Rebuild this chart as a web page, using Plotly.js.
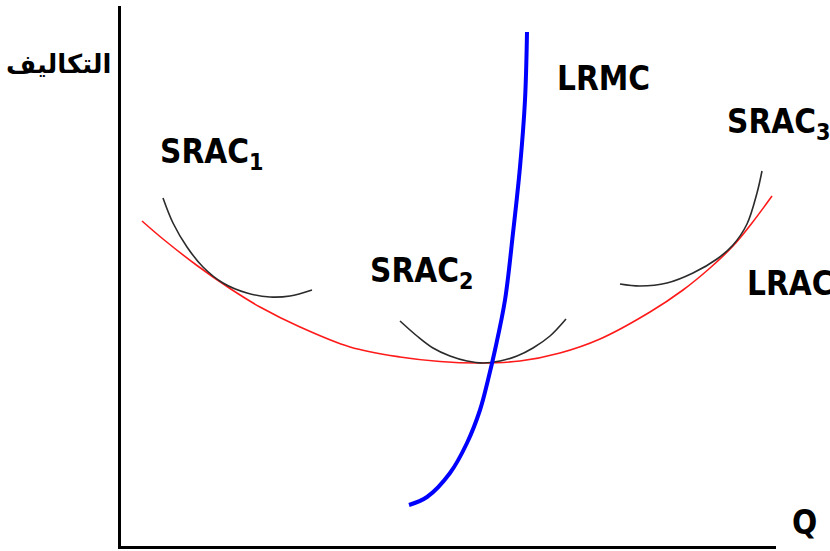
<!DOCTYPE html>
<html>
<head>
<meta charset="utf-8">
<script src="https://cdn.plot.ly/plotly-3.0.1.min.js"></script>
<style>html,body{margin:0;padding:0;background:#fff;}#chart{width:830px;height:551px;}</style>
</head>
<body>
<div id="chart"></div>
<script>
// Long-run average cost (red)
const lracQ = [2.1, 4.2, 7.6, 10.9, 13.9, 17.9, 22.9, 27.9, 31.9, 35.9, 39.9, 43.9, 47.9, 52.9, 56.2, 58.9, 61.2, 63.1, 65.1];
const lracC = [32.5, 30.7, 28.05, 25.75, 23.9, 21.9, 19.9, 18.9, 18.45, 18.3, 18.5, 19.3, 20.7, 23.4, 25.6, 27.8, 30.0, 32.3, 35.0];
// Short-run average cost curves
const srac1Q = [4.2, 5.2, 6.6, 8.2, 10.2, 12.6, 14.9, 16.9, 19.1];
const srac1C = [34.8, 32.3, 29.9, 27.9, 26.3, 25.3, 24.9, 25.0, 25.6];
const srac2Q = [27.9, 29.6, 31.2, 32.9, 34.6, 36.2, 37.9, 39.6, 41.2, 42.9, 44.5];
const srac2C = [22.5, 21.0, 19.8, 19.0, 18.5, 18.3, 18.5, 19.0, 19.8, 21.0, 22.7];
const srac3Q = [49.9, 51.9, 54.6, 57.2, 59.6, 61.2, 62.6, 63.6, 64.1];
const srac3C = [26.2, 26.0, 26.3, 27.3, 28.7, 30.1, 32.2, 35.3, 37.5];
// Long-run marginal cost (blue)
const lrmcQ = [28.8, 30.6, 32.9, 34.6, 35.9, 36.7, 37.4, 38.4, 39.2, 39.9, 40.4, 40.6];
const lrmcC = [4.1, 4.9, 7.3, 10.3, 13.6, 16.6, 19.6, 24.6, 31.3, 37.9, 44.6, 51.4];
// Curve labels (data coordinates)
const labels = ["SRAC<sub>1</sub>", "SRAC<sub>2</sub>", "SRAC<sub>3</sub>", "LRMC", "LRAC"];
const labelQ = [3.7, 24.7, 60.4, 43.4, 62.4];
const labelC = [39.3, 27.4, 42.3, 46.8, 26.3];
// Axis titles (paper coordinates, outside the plot area)
const yTitle = "التكاليف";
const xTitle = "Q";

const LATIN = "Liberation Sans Narrow, DejaVu Sans Condensed, sans-serif";

const traces = [
  {x: lracQ, y: lracC, mode: "lines", line: {color: "#ff1a1a", width: 1.6, shape: "spline"}},
  {x: srac1Q, y: srac1C, mode: "lines", line: {color: "#2b2b2b", width: 1.6, shape: "spline"}},
  {x: srac2Q, y: srac2C, mode: "lines", line: {color: "#2b2b2b", width: 1.6, shape: "spline"}},
  {x: srac3Q, y: srac3C, mode: "lines", line: {color: "#2b2b2b", width: 1.6, shape: "spline"}},
  {x: lrmcQ, y: lrmcC, mode: "lines", line: {color: "#0000ff", width: 4, shape: "spline"}}
];

const annotations = labels.map((t, i) => ({
  x: labelQ[i], y: labelC[i], xref: "x", yref: "y", text: t, showarrow: false,
  xanchor: "left", yanchor: "middle",
  font: {family: LATIN, size: 33, color: "#000", weight: "bold"}
}));
annotations.push({
  x: -0.095, y: 0.893, xref: "paper", yref: "paper", text: yTitle, showarrow: false,
  xanchor: "center", yanchor: "middle",
  font: {family: "DejaVu Sans", size: 26, color: "#000", weight: "bold"}
});
annotations.push({
  x: 1.043, y: 0.044, xref: "paper", yref: "paper", text: xTitle, showarrow: false,
  xanchor: "center", yanchor: "middle",
  font: {family: LATIN, size: 33, color: "#000", weight: "bold"}
});

const layout = {
  width: 830, height: 551,
  margin: {l: 121, r: 54, t: 6, b: 5},
  paper_bgcolor: "#fff", plot_bgcolor: "#fff",
  showlegend: false,
  xaxis: {range: [0, 65.5], showgrid: false, zeroline: false, showticklabels: false, ticks: "",
          showline: true, linecolor: "#000", linewidth: 3, fixedrange: true},
  yaxis: {range: [0, 54], showgrid: false, zeroline: false, showticklabels: false, ticks: "",
          showline: true, linecolor: "#000", linewidth: 3, fixedrange: true},
  annotations: annotations
};

Plotly.newPlot("chart", traces, layout, {displayModeBar: false, staticPlot: true});
</script>
</body>
</html>
